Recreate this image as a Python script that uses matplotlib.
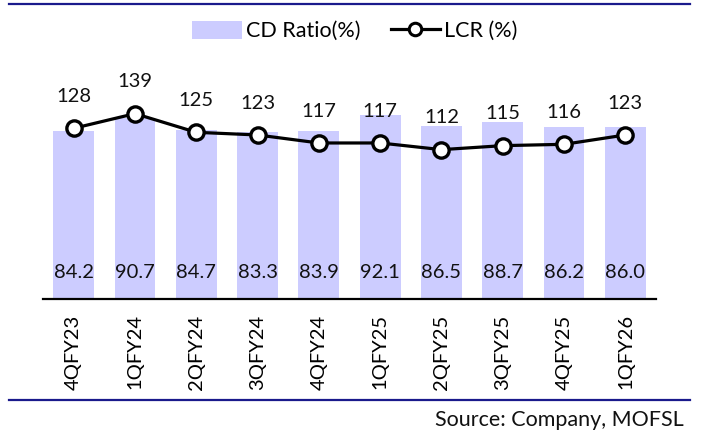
import matplotlib
matplotlib.use("Agg")
import matplotlib.pyplot as plt
from matplotlib.lines import Line2D
from matplotlib.patches import Patch

plt.rcParams['font.family'] = ['Lato', 'DejaVu Sans']

quarters = ["4QFY23", "1QFY24", "2QFY24", "3QFY24", "4QFY24",
            "1QFY25", "2QFY25", "3QFY25", "4QFY25", "1QFY26"]
cd_ratio = [84.2, 90.7, 84.7, 83.3, 83.9, 92.1, 86.5, 88.7, 86.2, 86.0]
lcr = [128, 139, 125, 123, 117, 117, 112, 115, 116, 123]

bar_color = "#CCCCFF"
navy = "#1A1A8C"

fig = plt.figure(figsize=(7.02, 4.32), dpi=100)
ax = fig.add_axes([0.0613, 0.3079, 0.8732, 0.4630])
ax2 = ax.twinx()

x = list(range(len(quarters)))
ax.bar(x, cd_ratio, width=0.665, color=bar_color, zorder=1)
ax.set_xlim(-0.5, len(quarters) - 0.5)
ax.set_ylim(0, 100)

for xi, v in zip(x, cd_ratio):
    ax.text(xi, 13, f"{v:.1f}", ha="center", va="center", fontsize=14.5, color="#111111")

ax2.plot(x, lcr, color="black", lw=2.3, marker="o", markersize=11,
         markerfacecolor="white", markeredgecolor="black", markeredgewidth=2.4, zorder=3)
ax2.set_ylim(0, 150)
for xi, v in zip(x, lcr):
    ax2.annotate(f"{v}", (xi, v), xytext=(0, 23), textcoords="offset points",
                 ha="center", va="center", fontsize=14.5, color="#111111")

for a in (ax, ax2):
    for s in ("top", "right", "left"):
        a.spines[s].set_visible(False)
    a.set_yticks([])
ax2.spines["bottom"].set_visible(False)
ax.spines["bottom"].set_linewidth(1.6)
ax.spines["bottom"].set_color("black")

ax.set_xticks(x)
ax.set_xticklabels(quarters, rotation=90, fontsize=14.5)
ax.tick_params(axis="x", length=0, pad=11)

handles = [Patch(facecolor=bar_color, edgecolor="none", label="CD Ratio(%)"),
           Line2D([0], [0], color="black", lw=2.3, marker="o", markersize=9,
                  markerfacecolor="white", markeredgecolor="black", markeredgewidth=2.2,
                  label="LCR (%)")]
fig.legend(handles=handles, loc="center", bbox_to_anchor=(355 / 702, 1 - 31 / 432),
           ncol=2, frameon=False, fontsize=15.5, handlelength=2.3, handleheight=0.9,
           columnspacing=1.4, handletextpad=0.2)

fig.add_artist(Line2D([9 / 702, 690 / 702], [1 - 4 / 432, 1 - 4 / 432],
                      color=navy, lw=1.6, transform=fig.transFigure))
fig.add_artist(Line2D([9 / 702, 690 / 702], [1 - 400 / 432, 1 - 400 / 432],
                      color=navy, lw=1.6, transform=fig.transFigure))
fig.text(684 / 702, 1 - 426.5 / 432, "Source: Company, MOFSL", ha="right", va="baseline",
         fontsize=15.5, color="#111111")

fig.savefig("out.png", dpi=100)
